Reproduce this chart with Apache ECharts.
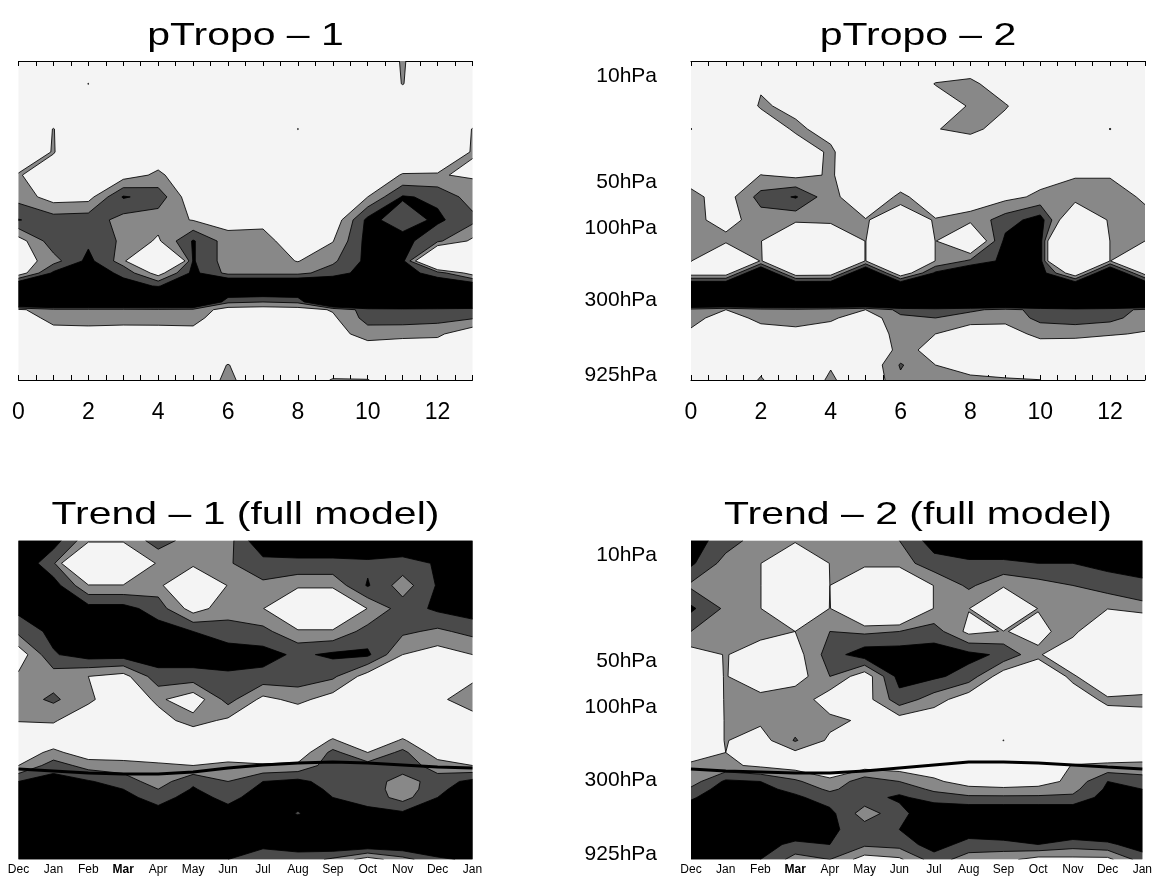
<!DOCTYPE html>
<html>
<head>
<meta charset="utf-8">
<script src="https://cdn.jsdelivr.net/npm/echarts@6/dist/echarts.min.js"></script>
<style>
html, body { margin: 0; padding: 0; background: #ffffff; }
#chart { width: 1155px; height: 881px; }
</style>
</head>
<body>
<div id="chart"></div>
<script>
// Month labels for the seasonal axis (Dec .. Jan, 14 points)
const months = ['Dec', 'Jan', 'Feb', 'Mar', 'Apr', 'May', 'Jun', 'Jul', 'Aug', 'Sep', 'Oct', 'Nov', 'Dec', 'Jan'];
const monthTicks = [0, 1, 2, 3, 4, 5, 6, 7, 8, 9, 10, 11, 12, 13];
const numberTicks = [0, 2, 4, 6, 8, 10, 12];

// Pressure levels of the grid rows (hPa), top to bottom
const levels = [8, 11.3, 15.8, 22.4, 31.7, 45, 62.6, 88.7, 122, 165, 198, 241, 307, 345, 391, 498, 635, 797, 1000];
const pressureTicks = [10, 50, 100, 300, 925];

// Contour levels and fill colours (below first level, between levels, above last level)
const contourLevels = [1, 2, 3];
const bandColors = ['#f4f4f4', '#888888', '#4a4a4a', '#000000'];

// Field values, one row per pressure level, one column per month
const pTropo1 = [
  [0, 0, 0, 0, 0, 0, 0, 0, 0, 0, 0, 1.1, 0, 0],
  [0, 0, 1.02, 0, 0, 0, 0, 0, 0, 0, 0, 1.04, 0, 0],
  [0, 0, 0, 0, 0, 0, 0, 0, 0, 0, 0, 0, 0, 0],
  [0, 1.03, 0, 0, 0, 0, 0, 0, 1.02, 0, 0, 0, 0, 1.03],
  [0.5, 1.04, 0.2, 0.2, 0.3, 0.2, 0.1, 0.1, 0.1, 0.1, 0.2, 0.3, 0.5, 1.04],
  [1.05, 0.6, 0.4, 0.5, 1.2, 0.2, 0.1, 0.1, 0.1, 0.2, 0.5, 1.05, 1.05, 0.9],
  [1.6, 0.5, 0.6, 3.1, 2.6, 0.2, 0.1, 0.1, 0.1, 0.2, 1.0, 3.1, 2.8, 1.5],
  [3.05, 2.5, 2.6, 1.6, 1.4, 0.95, 0.5, 0.7, 0.1, 0.2, 3.3, 2.5, 3.2, 2.3],
  [0.5, 2.6, 2.8, 1.8, 0.84, 3.1, 1.5, 1.4, 0.3, 0.95, 3.4, 3.4, 2.2, 0.78],
  [0.3, 1.6, 3.3, 1.5, -6, 3.1, 1.5, 1.5, 0.95, 1.8, 3.3, 3.3, -3, -4],
  [0.3, 3.2, 3.8, 2.7, 0.5, 3.3, 1.7, 1.7, 1.7, 2.5, 3.5, 3.5, 2.5, 0.5],
  [4.5, 4.5, 4.5, 3.5, 2.9, 4.5, 5, 5, 5, 4.5, 4.5, 4.5, 4, 4],
  [6.6, 6.6, 6.6, 6.6, 6.6, 6.6, 2.2, 2.0, 2.2, 6.6, 6.6, 6.6, 6.6, 6.6],
  [0.8, 1.7, 1.7, 1.7, 1.8, 1.7, 0.5, 0.4, 0.5, 1.1, 2.5, 2.6, 2.5, 2.3],
  [0.3, 1.4, 1.4, 1.4, 1.5, 1.4, 0.2, 0.2, 0.2, 0.8, 2.4, 2.6, 2.4, 2.1],
  [0.2, 0.5, 0.6, 0.5, 0.4, 0.6, 0, 0, 0, 0.5, 1.5, 1.2, 1.2, 0.2],
  [0, 0, 0, 0, 0, 0, 0, 0, 0, 0, 0.3, 0.5, 0.3, 0],
  [0, 0, 0, 0, 0, 0, 1.05, 0, 0, 0, 0, 0, 0, 0],
  [0, 0, 0, 0, 0, 0, 1.3, 0, 0, 1.1, 1.05, 0, 1.02, 0]
];

const pTropo2 = [
  [0, 0, 0, 0, 0, 0, 0, 0, 0, 0, 1.03, 0, 0, 0],
  [0, 0, 0.9, 0, 0, 0, 0, 1.05, 1.3, 0.2, 0, 0, 0, 0],
  [0, 0, 1.1, 0.8, 0, 0, 0, 0.3, 1.1, 1.1, 0, 0, 0, 0],
  [1.03, 0, 0.3, 1.15, 0.7, 0, 0, 0.95, 1.3, 0.5, 0, 0, 1.03, 0],
  [0, 0, 0, 0.4, 1.15, 0, 0, 0, 0, 0, 0, 0, 0, 0],
  [0.5, 0, 1.02, 0.7, 1.1, 0.2, 0.3, 0.2, 0.2, 0.3, 0.6, 0.9, 0.9, 0.6],
  [1.3, 0.5, 2.4, 3.1, 1.3, 0.2, 1.2, 0.4, 0.5, 0.7, 1.2, 1.6, 1.6, 0.8],
  [1.3, 0.6, 1.5, 1.3, 1.5, 1.05, 0.6, 1.05, 1.3, 2.5, 3.5, -1, 1.2, 1.4],
  [1.4, 1.3, 1.05, -1.5, -1.5, 1.05, -4, 1.05, -1, 3.3, 3.5, -8, 1.05, 1.0],
  [1.05, -2, 1.1, -1.5, -1.5, 1.05, -4, 1.05, 2.2, 3.3, 3.5, -8, 1.05, -3],
  [0.3, 0.3, 5, 0.2, 0.3, 5, 0, 3.2, 4.5, 3.6, 3.6, 0, 5, 0.5],
  [4.5, 4.5, 4.5, 4.5, 4.5, 4.5, 4.5, 4.5, 4.5, 4.5, 4.5, 4.5, 4.5, 4.5],
  [6.6, 6.6, 6.6, 6.6, 6.6, 6.6, 6.6, 6.6, 6.6, 6.6, 6.6, 6.6, 6.6, 6.6],
  [1.6, 1.0, 1.6, 1.7, 1.5, 1.0, 2.3, 2.5, 2.2, 1.7, 2.3, 2.6, 2.4, 1.8],
  [1.5, 0.3, 1.4, 1.5, 1.2, 0.3, 1.8, 2.0, 1.5, 1.3, 2.3, 2.5, 2.3, 1.5],
  [0.7, 0, 0.3, 0.6, 0.3, 0, 1.5, 1.0, 0.3, 0.5, 1.3, 1.3, 1.1, 0.9],
  [0, 0, 0, 0, 0, 0, 1.3, 0.7, 0, 0, 0.3, 0.2, 0, 0],
  [0, 0, 0.7, 0, 0.9, 0, 2.1, 1.0, 0.6, 0.4, 0, 0, 0, 0],
  [0, 0, 1.1, 0, 1.2, 0, 1.8, 1.3, 1.2, 1.1, 1.02, 0, 0, 0]
];

const trend1 = [
  [4, 3.5, 1.3, 1.3, 2.4, 1.6, 1.6, 4, 4, 4, 4, 4, 4, 4],
  [4, 2.2, -3, -3, 1.35, 1.5, 1.9, 2.6, 2.7, 2.7, 2.8, 2.6, 3.1, 3.6],
  [4, 3.5, 1.1, 1.1, 1.5, -2, 1.1, 1.8, 1.3, 1.3, 3.1, 1.5, 3.1, 3.6],
  [3.3, 3.4, 3.4, 3.4, 2.5, 0.5, 1.6, 1.05, -1.5, -1.5, 1.05, 2.5, 3.2, 3.6],
  [2.3, 3.3, 3.6, 3.6, 3.5, 3.0, 2.4, 2.3, 1.2, 1.2, 2.4, 2.2, 1.8, 2.3],
  [0.3, 2.9, 3.5, 3.5, 3.6, 3.6, 3.6, 3.4, 2.8, 3.2, 3.2, 1.0, 0.5, 1.0],
  [1.2, 1.5, 1.0, 0.6, 2.6, 2.6, 2.8, 2.7, 2.6, 2.2, 0.5, 0, 0, 0.8],
  [1.5, 2.2, 1.2, 0.2, 1.2, 0.3, 2.4, 0.7, 1.3, 0.5, 0, 0, 0.8, 1.5],
  [1.05, 1.1, 0.3, 0, 0.6, 1.4, 0.8, 0.3, 0, 0, 0, 0, 0.3, 0.6],
  [0.2, 0.3, 0.2, 0.1, 0.1, 0.1, 0.1, 0.1, 0.2, 1.1, 0.3, 1.1, 0.2, 0.2],
  [0.3, 1.3, 0.3, 0.2, 0.2, 0.2, 0.2, 0.3, 0.3, 2.3, 1.0, 2.3, 0.4, 0.3],
  [1.0, 2.5, 1.6, 1.5, 1.2, 1.0, 1.3, 1.1, 1.2, 2.6, 2.4, 2.6, 1.5, 1.0],
  [3.0, 3.5, 3.1, 2.5, 1.5, 2.8, 2.0, 3.0, 3.3, 2.5, 2.6, 1.5, 2.5, 3.3],
  [3.5, 3.8, 3.4, 3.0, 2.0, 3.1, 2.3, 3.3, 3.5, 2.8, 2.6, 1.4, 2.7, 3.7],
  [4, 4, 3.6, 3.3, 2.6, 3.4, 2.7, 3.5, 3.6, 3.0, 2.6, 1.6, 3.0, 4],
  [4, 4, 4, 4, 3.4, 4, 3.4, 4, 2.9, 4, 3.3, 3.2, 4, 4],
  [4, 4, 4, 4, 4, 4, 4, 4, 4, 4, 4, 4, 4, 4],
  [4, 4, 4, 4, 4, 4, 3.5, 3.2, 3.4, 4, 4, 4, 4, 4],
  [4, 4, 4, 4, 4, 4, 3.0, 2.5, 2.6, 1.8, 0.5, 1.6, 2.8, 3.2]
];

const trend2 = [
  [3.5, 2.5, 1.5, 1.3, 1.5, 1.6, 2.0, 3.5, 4, 4, 4, 4, 4, 4],
  [3.2, 1.6, 1.05, -2, 1.05, 1.5, 1.5, 2.6, 2.8, 2.8, 3.0, 3.0, 3.3, 3.4],
  [1.8, 1.6, 1.05, -2, 1.0, -1.5, -1.5, 1.05, 2.2, 1.2, 1.6, 2.0, 2.5, 2.8],
  [3.2, 1.8, 1.05, -2, 1.05, -1.5, -1.5, 1.05, 1.05, -1.5, 1.05, 1.5, 1.05, 1.6],
  [2.0, 1.1, 1.3, 1.0, 2.0, 1.8, 2.0, 2.5, 0.7, 1.05, 0.7, 1.5, -1.5, -1.5],
  [0.5, 1.05, 0.5, 0.5, 2.5, 3.6, 3.6, 3.5, 3.3, 2.8, 1.2, -0.5, -1.5, -1.5],
  [0.3, 1.05, 0.3, 0.4, 2.0, 0.3, 3.4, 3.2, 2.6, 0.3, 0.2, 1.2, -0.5, -0.5],
  [0.2, 1.05, 1.3, 1.8, 0.3, 0.5, 2.6, 1.5, 0.3, 0, 0, 0.5, 1.2, 1.4],
  [0, 1.05, 1.2, 1.5, 1.3, 0.8, 0.5, 0.2, 0, 0, 0, 0.2, 0.5, 0.3],
  [0, 1.05, 0.5, 2.1, 0.8, 0.2, 0.1, 0, 0, 1.02, 0, 0, 0, 0],
  [0.2, 1.0, 0.3, 0.8, 0.3, 0.1, 0.1, 0, 0, 0, 0, 0.3, 0.2, 0.2],
  [1.3, 1.2, 0.8, 0.5, 0.3, 0.5, 0.4, 0.3, 0.2, 0.2, 0.3, 1.05, 1.2, 1.3],
  [1.5, 3.2, 3.0, 2.2, 1.2, 2.6, 2.0, 1.2, 0.5, 0.3, 0.5, 1.3, 3.0, 2.5],
  [2.2, 3.6, 3.3, 2.7, 1.8, 2.6, 2.6, 1.8, 1.3, 1.2, 1.3, 1.7, 3.2, 3.0],
  [2.8, 4, 3.5, 3.2, 2.5, 2.6, 3.2, 2.5, 2.2, 2.2, 2.2, 2.2, 3.5, 3.5],
  [4, 4, 4, 4, 3.3, 1.5, 2.6, 4, 4, 4, 4, 4, 4, 4],
  [4, 4, 4, 4, 3.2, 2.5, 3.0, 4, 3.6, 4, 4, 4, 4, 4],
  [4, 4, 3.5, 2.7, 3.0, 2.2, 2.4, 3.5, 2.6, 2.6, 3.0, 2.5, 2.8, 3.5],
  [4, 3.5, 3.0, 1.6, 2.0, 0.5, 0.8, 2.5, 1.5, 1.3, 0.6, 0.7, 0.7, 2.5]
];

// Mean tropopause pressure (hPa) per month
const tropopause1 = [254, 262, 270, 274, 274, 266, 250, 239, 232, 229, 232, 239, 247, 250];
const tropopause2 = [254, 262, 266, 270, 270, 262, 250, 239, 229, 229, 232, 239, 247, 254];

const panels = [
  { title: 'pTropo \u2013 1', field: pTropo1, left: 18.5, top: 61, yLabels: false, monthAxis: false, tropo: null },
  { title: 'pTropo \u2013 2', field: pTropo2, left: 691, top: 61, yLabels: true, monthAxis: false, tropo: null },
  { title: 'Trend \u2013 1 (full model)', field: trend1, left: 18.5, top: 540.5, yLabels: false, monthAxis: true, tropo: tropopause1 },
  { title: 'Trend \u2013 2 (full model)', field: trend2, left: 691, top: 540.5, yLabels: true, monthAxis: true, tropo: tropopause2 }
];
const plotW = 454, plotH = 319;

const logLevels = levels.map(p => Math.log10(p));
const nCols = months.length;

// Clip a cell polygon to the part where value >= L (linear interpolation along edges).
// Returns the clipped polygon and the contour segments it introduces.
function clipAbove(poly, L) {
  const out = [];
  for (let i = 0; i < poly.length; i++) {
    const a = poly[i], b = poly[(i + 1) % poly.length];
    const ain = a.v >= L, bin = b.v >= L;
    if (ain) out.push({ x: a.x, y: a.y, v: a.v, cut: false });
    if (ain !== bin) {
      const t = (L - a.v) / (b.v - a.v);
      out.push({ x: a.x + t * (b.x - a.x), y: a.y + t * (b.y - a.y), v: L, cut: true });
    }
  }
  const segs = [];
  for (let i = 0; i < out.length; i++) {
    const p = out[i], q = out[(i + 1) % out.length];
    if (out.length > 1 && p.cut && q.cut) segs.push([p, q]);
  }
  return { poly: out, segs: segs };
}

function cellCorners(field, c, r) {
  return [[c, r], [c + 1, r], [c + 1, r + 1], [c, r + 1]].map(([i, j]) => ({ x: i, y: logLevels[j], v: field[j][i] }));
}

function fmt(pt) { return pt[0].toFixed(2) + ' ' + pt[1].toFixed(2); }

// Whole field drawn as one path per band so neighbouring cells join without seams
function contourRenderer(field) {
  return function (params, api) {
    const fills = contourLevels.map(() => []);
    const lines = [];
    for (let r = 0; r < levels.length - 1; r++) {
      for (let c = 0; c < nCols - 1; c++) {
        const corners = cellCorners(field, c, r);
        contourLevels.forEach((L, k) => {
          const res = clipAbove(corners, L);
          if (res.poly.length >= 3) {
            const pts = res.poly.map(p => api.coord([p.x, p.y]));
            fills[k].push('M' + pts.map(fmt).join(' L') + ' Z');
          }
          res.segs.forEach(s => {
            lines.push('M' + fmt(api.coord([s[0].x, s[0].y])) + ' L' + fmt(api.coord([s[1].x, s[1].y])));
          });
        });
      }
    }
    const children = [];
    fills.forEach((parts, k) => {
      if (parts.length) {
        children.push({ type: 'path', shape: { pathData: parts.join(' ') }, style: { fill: bandColors[k + 1], stroke: null } });
      }
    });
    if (lines.length) {
      children.push({ type: 'path', shape: { pathData: lines.join(' ') }, style: { fill: null, stroke: '#000000', lineWidth: 0.85 } });
    }
    return { type: 'group', children: children };
  };
}

const tickFont = '"Liberation Sans", Arial, Helvetica, sans-serif';
const halfSteps = [];
for (let v = 0; v <= 13; v += 0.5) halfSteps.push(v);

const option = {
  animation: false,
  backgroundColor: '#ffffff',
  grid: panels.map(p => ({
    left: p.left, top: p.top, width: plotW, height: plotH,
    show: true, backgroundColor: bandColors[0], borderWidth: 0, containLabel: false
  })),
  xAxis: [],
  yAxis: [],
  series: [],
  graphic: panels.map(p => ({
    type: 'text',
    x: p.left + plotW / 2,
    y: p.top - 25,
    scaleX: 1.28,
    silent: true,
    style: {
      text: p.title,
      font: '32px ' + tickFont,
      fill: '#000000',
      textAlign: 'center', align: 'center',
      textVerticalAlign: 'middle', verticalAlign: 'middle'
    }
  }))
};

panels.forEach((p, i) => {
  if (p.monthAxis) {
    option.xAxis.push({
      type: 'value', gridIndex: i, min: 0, max: 13, position: 'bottom',
      axisLine: { show: false }, axisTick: { show: false }, splitLine: { show: false },
      axisLabel: {
        customValues: monthTicks, margin: 4, fontSize: 12, fontFamily: tickFont, color: '#000000',
        formatter: v => (v === 3) ? '{b|' + months[v] + '}' : months[v],
        rich: { b: { fontWeight: 'bold', fontSize: 12, fontFamily: tickFont, color: '#000000' } }
      }
    });
    option.xAxis.push({ type: 'value', gridIndex: i, min: 0, max: 13, position: 'top', show: false });
  } else {
    const line = { show: true, onZero: false, lineStyle: { color: '#000000', width: 1 } };
    const tick = { show: true, inside: true, length: 5, customValues: halfSteps, lineStyle: { color: '#000000', width: 1 } };
    option.xAxis.push({
      type: 'value', gridIndex: i, min: 0, max: 13, position: 'bottom',
      axisLine: line, axisTick: tick, splitLine: { show: false },
      axisLabel: { customValues: numberTicks, margin: 21, fontSize: 23, fontFamily: tickFont, color: '#000000' }
    });
    option.xAxis.push({
      type: 'value', gridIndex: i, min: 0, max: 13, position: 'top',
      axisLine: line, axisTick: tick, splitLine: { show: false }, axisLabel: { show: false }
    });
  }
  option.yAxis.push({
    type: 'value', gridIndex: i, inverse: true,
    min: logLevels[0], max: logLevels[logLevels.length - 1],
    axisLine: { show: false }, axisTick: { show: false }, splitLine: { show: false },
    axisLabel: p.yLabels ? {
      customValues: pressureTicks.map(v => Math.log10(v)),
      formatter: v => Math.round(Math.pow(10, v)) + 'hPa',
      margin: 34, fontSize: 21, fontFamily: tickFont, color: '#000000'
    } : { show: false }
  });

  option.series.push({
    type: 'custom', coordinateSystem: 'cartesian2d', xAxisIndex: 2 * i, yAxisIndex: i,
    data: [[6.5, (logLevels[0] + logLevels[logLevels.length - 1]) / 2]],
    encode: { x: 0, y: 1 }, renderItem: contourRenderer(p.field), silent: true, z: 1, clip: true
  });
  if (p.tropo) {
    option.series.push({
      type: 'line', xAxisIndex: 2 * i, yAxisIndex: i, z: 3, silent: true,
      data: p.tropo.map((v, k) => [k, Math.log10(v)]),
      symbol: 'none', lineStyle: { color: '#000000', width: 3 }
    });
  }
});

const chart = echarts.init(document.getElementById('chart'), null, { renderer: 'canvas' });
chart.setOption(option);
</script>
</body>
</html>
